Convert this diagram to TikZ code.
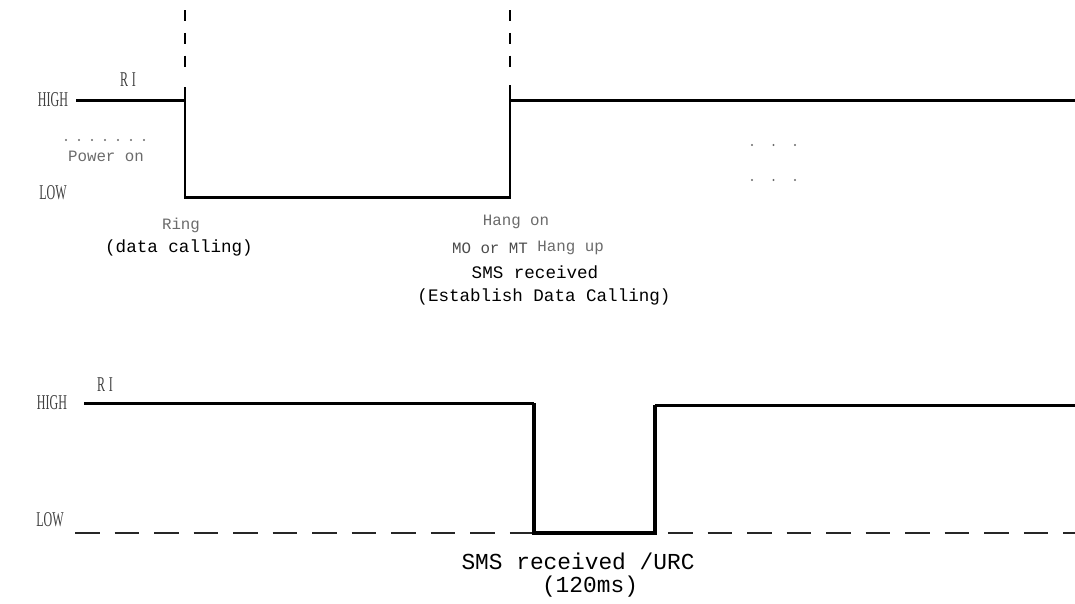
\documentclass[tikz,border=0pt]{standalone}
\usepackage{fontspec}
\setmainfont{Liberation Serif}
\setmonofont{Liberation Mono}
\newfontfamily\narrowserif[FakeStretch=0.57]{Liberation Serif}
\usetikzlibrary{positioning}
\definecolor{notegrey}{gray}{0.42}
\tikzset{
  level/.style={font=\narrowserif\fontsize{12}{14}\selectfont, text=black!75, inner sep=0pt},
  note/.style={font=\ttfamily\fontsize{9}{11}\selectfont, text=notegrey, inner sep=0pt},
  event/.style={font=\ttfamily\fontsize{10}{12}\selectfont, inner sep=0pt},
  bigevent/.style={font=\ttfamily\fontsize{13}{15}\selectfont, inner sep=0pt},
  signal/.style={line width=1.7pt},
  pulse/.style={line width=2.5pt},
  marker/.style={line width=1.7pt, dash pattern=on 6.5pt off 6.5pt},
  lowline/.style={line width=0.8pt, black!85, dash pattern=on 14pt off 8.5pt},
  dotmark/.style={circle, fill=notegrey, minimum size=1.3pt, inner sep=0pt}
}

\begin{document}
\begin{tikzpicture}[x=0.02cm, y=-0.02cm]
\useasboundingbox (0,0) rectangle (1075,603);

% data calling
\node[level] (hightop) at (53,100) {HIGH};
\node[level] (lowtop) at (53,193) {LOW};
\node[level] (ritop) at (128,80) {R\,I};
\node[note] (power) at (106,156) {Power on};
\node[note] (ring) at (181,225) {Ring};
\node[event] (datacall) at (179,248) {(data calling)};
\node[note] (hangon) at (516,222) {Hang on};
\node[note, text=black!70] (momt) at (490,248) {MO or MT};
\node[note, right=5pt of momt] (hangup) {Hang up};
\node[event] (smstop) at (535,272) {SMS received};
\node[event] (establish) at (544,297) {(Establish Data Calling)};

\coordinate (t0) at (76,100);
\coordinate (ringhi) at (185,100);
\coordinate (ringtop) at (185,87);
\coordinate (ringlo) at (185,197);
\coordinate (hanglo) at (510,197);
\coordinate (hangtop) at (510,85);
\coordinate (hanghi) at (510,100);
\coordinate (tend) at (1075,100);
\draw[signal] (t0) -- (ringhi);
\draw[signal] (ringtop) -- (ringlo) -- (hanglo) -- (hangtop);
\draw[signal] (hanghi) -- (tend);

\coordinate (ringmark) at (185,10);
\coordinate (ringmarkend) at (185,74);
\coordinate (hangmark) at (510,10);
\coordinate (hangmarkend) at (510,74);
\draw[marker] (ringmark) -- (ringmarkend);
\draw[marker] (hangmark) -- (hangmarkend);

\foreach \i in {0,...,6}
  \node[dotmark] (pd\i) at (66+13*\i,140) {};
\foreach \i in {0,1,2} {
  \node[dotmark] (ua\i) at (752+21.5*\i,145) {};
  \node[dotmark] (ub\i) at (752+21.5*\i,180) {};
}

% SMS / URC
\node[level] (highbot) at (52,403) {HIGH};
\node[level] (lowbot) at (50,520) {LOW};
\node[level] (ribot) at (105,385) {R\,I};
\node[bigevent] (smsurc) at (578,561) {SMS received /URC};
\node[bigevent] (urctime) at (590,587) {(120ms)};

\coordinate (b0) at (84,403);
\coordinate (fallhi) at (534,403);
\coordinate (falllo) at (534,533);
\coordinate (riselo) at (655,533);
\coordinate (risehi) at (655,405);
\coordinate (bend) at (1075,405);
\coordinate (lowstart) at (75,533);
\coordinate (lowend) at (1075,533);
\draw[lowline] (lowstart) -- (lowend);
\draw[signal] (b0) -- (fallhi);
\draw[pulse] (fallhi) -- (falllo) -- (riselo) -- (risehi);
\draw[signal] (risehi) -- (bend);
\end{tikzpicture}
\end{document}
